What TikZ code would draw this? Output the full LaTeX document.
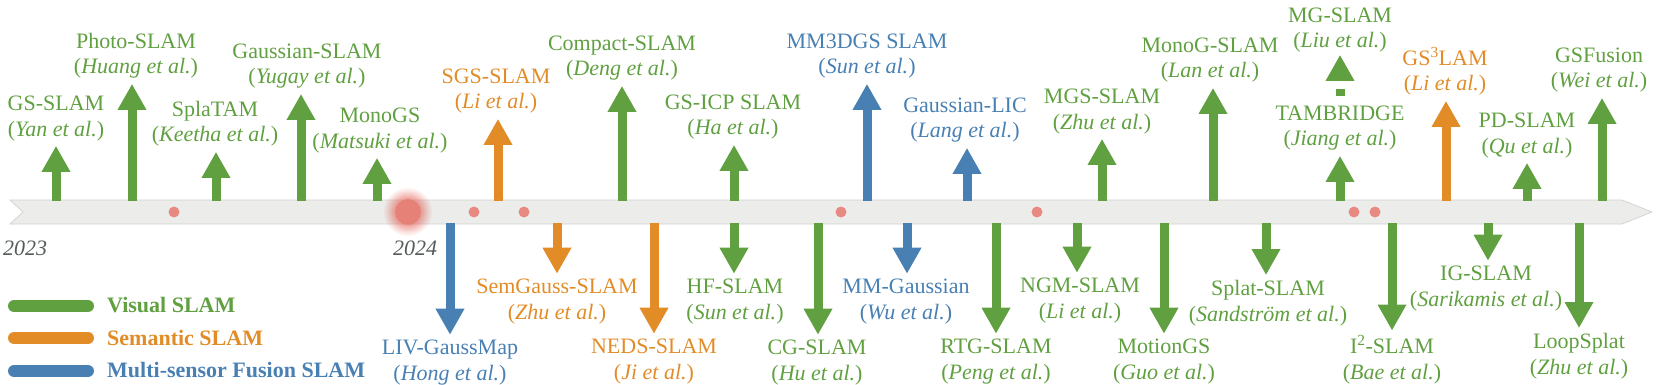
\documentclass[tikz,border=0pt]{standalone}
\usepackage{fontspec}
\setmainfont{Liberation Serif}
\usetikzlibrary{arrows.meta}

\definecolor{vis}{RGB}{96,160,64}
\definecolor{sem}{RGB}{226,140,40}
\definecolor{fus}{RGB}{72,128,180}
\definecolor{yeargray}{RGB}{85,92,90}
\definecolor{bandgray}{RGB}{236,237,235}
\definecolor{dotred}{RGB}{233,138,130}
\definecolor{bigred}{RGB}{230,108,98}

\begin{document}
\begin{tikzpicture}[x=1pt,y=-1pt,
		lbl/.style={font=\fontsize{22}{25.5}\selectfont, align=center, inner sep=0pt, anchor=base},
		legtext/.style={font=\bfseries\fontsize{22}{25.5}\selectfont, inner sep=0pt, anchor=base west},
		year/.style={font=\itshape\fontsize{22}{25.5}\selectfont, text=yeargray, inner sep=0pt, anchor=base},
		arr/.style={line width=9pt, -{Triangle[width=27pt,length=26pt]}, shorten >=5pt},
		legbar/.style={line width=12pt, line cap=round}]
			\useasboundingbox (0,0) rectangle (1661,385);

			% timeline band
			\coordinate (T1) at (10,200);
			\coordinate (T2) at (1622,200);
			\coordinate (T3) at (1652,212);
			\coordinate (T4) at (1622,224);
			\coordinate (T5) at (10,224);
			\coordinate (T6) at (23,212);
			\fill[bandgray] (T1)--(T2)--(T3)--(T4)--(T5)--(T6)--cycle;
			\draw[black!18, line width=0.7pt] (T1)--(T2)--(T3)--(T4)--(T5)--(T6)--cycle;

			% dots on the band
			\fill[dotred] (174,212) circle (5.5pt);
			\fill[dotred] (474,212) circle (5.5pt);
			\fill[dotred] (524,212) circle (5.5pt);
			\fill[dotred] (841,212) circle (5.5pt);
			\fill[dotred] (1037,212) circle (5.5pt);
			\fill[dotred] (1354,212) circle (5.5pt);
			\fill[dotred] (1375,212) circle (5.5pt);
			\fill[bigred, opacity=0.08] (408,212) circle (24pt);
			\fill[bigred, opacity=0.08] (408,212) circle (22.5pt);
			\fill[bigred, opacity=0.09] (408,212) circle (21pt);
			\fill[bigred, opacity=0.1] (408,212) circle (19.5pt);
			\fill[bigred, opacity=0.12] (408,212) circle (18pt);
			\fill[bigred, opacity=0.14] (408,212) circle (16.5pt);
			\fill[bigred, opacity=0.18] (408,212) circle (15pt);
			\fill[bigred, opacity=0.6] (408,212) circle (13pt);

			% years
			\node[year] (y23) at (25,255) {2023};
			\node[year] (y24) at (415,255) {2024};

			% labels above
			\node[lbl, text=vis] (gsslam) at (56,136) {GS-SLAM\\(\textit{Yan et al.})};
			\node[lbl, text=vis] (photo) at (136,74) {Photo-SLAM\\(\textit{Huang et al.})};
			\node[lbl, text=vis] (splatam) at (215,142) {SplaTAM\\(\textit{Keetha et al.})};
			\node[lbl, text=vis] (gaussslam) at (307,84) {Gaussian-SLAM\\(\textit{Yugay et al.})};
			\node[lbl, text=vis] (monogs) at (380,148) {MonoGS\\(\textit{Matsuki et al.})};
			\node[lbl, text=sem] (sgs) at (496,109) {SGS-SLAM\\(\textit{Li et al.})};
			\node[lbl, text=vis] (compact) at (622,76) {Compact-SLAM\\(\textit{Deng et al.})};
			\node[lbl, text=vis] (gsicp) at (733,135) {GS-ICP SLAM\\(\textit{Ha et al.})};
			\node[lbl, text=fus] (mm3dgs) at (867,74) {MM3DGS SLAM\\(\textit{Sun et al.})};
			\node[lbl, text=fus] (lic) at (965,138) {Gaussian-LIC\\(\textit{Lang et al.})};
			\node[lbl, text=vis] (mgs) at (1102,129) {MGS-SLAM\\(\textit{Zhu et al.})};
			\node[lbl, text=vis] (monog) at (1210,78) {MonoG-SLAM\\(\textit{Lan et al.})};
			\node[lbl, text=vis] (mg) at (1340,48) {MG-SLAM\\(\textit{Liu et al.})};
			\node[lbl, text=vis] (tam) at (1340,146) {TAMBRIDGE\\(\textit{Jiang et al.})};
			\node[lbl, text=sem] (gs3) at (1445,91) {GS\textsuperscript{3}LAM\\(\textit{Li et al.})};
			\node[lbl, text=vis] (pd) at (1527,153) {PD-SLAM\\(\textit{Qu et al.})};
			\node[lbl, text=vis] (gsfusion) at (1599,88) {GSFusion\\(\textit{Wei et al.})};

			% labels below
			\node[lbl, text=fus] (liv) at (450,380) {LIV-GaussMap\\(\textit{Hong et al.})};
			\node[lbl, text=sem] (semgauss) at (557,319) {SemGauss-SLAM\\(\textit{Zhu et al.})};
			\node[lbl, text=sem] (neds) at (654,379) {NEDS-SLAM\\(\textit{Ji et al.})};
			\node[lbl, text=vis] (hf) at (735,319) {HF-SLAM\\(\textit{Sun et al.})};
			\node[lbl, text=vis] (cg) at (817,380) {CG-SLAM\\(\textit{Hu et al.})};
			\node[lbl, text=fus] (mmg) at (906,319) {MM-Gaussian\\(\textit{Wu et al.})};
			\node[lbl, text=vis] (rtg) at (996,379) {RTG-SLAM\\(\textit{Peng et al.})};
			\node[lbl, text=vis] (ngm) at (1080,318) {NGM-SLAM\\(\textit{Li et al.})};
			\node[lbl, text=vis] (motion) at (1164,379) {MotionGS\\(\textit{Guo et al.})};
			\node[lbl, text=vis] (splat) at (1268,321) {Splat-SLAM\\(\textit{Sandström et al.})};
			\node[lbl, text=vis] (i2) at (1392,379) {I\textsuperscript{2}-SLAM\\(\textit{Bae et al.})};
			\node[lbl, text=vis] (ig) at (1486,306) {IG-SLAM\\(\textit{Sarikamis et al.})};
			\node[lbl, text=vis] (loop) at (1579,374) {LoopSplat\\(\textit{Zhu et al.})};

			% arrow feet on the band
			\coordinate (gsslam0) at (56,201);
			\coordinate (photo0) at (132,201);
			\coordinate (splatam0) at (216,201);
			\coordinate (gaussslam0) at (301,201);
			\coordinate (monogs0) at (377,201);
			\coordinate (sgs0) at (498,201);
			\coordinate (compact0) at (622,201);
			\coordinate (gsicp0) at (734,201);
			\coordinate (mm3dgs0) at (867,201);
			\coordinate (lic0) at (967,201);
			\coordinate (mgs0) at (1102,201);
			\coordinate (monog0) at (1213,201);
			\coordinate (tam0) at (1340,201);
			\coordinate (gs30) at (1446,201);
			\coordinate (pd0) at (1527,201);
			\coordinate (gsfusion0) at (1602,201);

			\coordinate (liv0) at (450,223);
			\coordinate (semgauss0) at (557,223);
			\coordinate (neds0) at (654,223);
			\coordinate (hf0) at (734,223);
			\coordinate (cg0) at (818,223);
			\coordinate (mmg0) at (907,223);
			\coordinate (rtg0) at (996,223);
			\coordinate (ngm0) at (1077,223);
			\coordinate (motion0) at (1164,223);
			\coordinate (splat0) at (1266,223);
			\coordinate (i20) at (1392,223);
			\coordinate (ig0) at (1488,223);
			\coordinate (loop0) at (1579,223);

			% arrows up
			\draw[arr, vis] (gsslam0) -- (gsslam0 |- gsslam.south);
			\draw[arr, vis] (photo0) -- (photo0 |- photo.south);
			\draw[arr, vis] (splatam0) -- (splatam0 |- splatam.south);
			\draw[arr, vis] (gaussslam0) -- (gaussslam0 |- gaussslam.south);
			\draw[arr, vis] (monogs0) -- (monogs0 |- monogs.south);
			\draw[arr, sem] (sgs0) -- (sgs0 |- sgs.south);
			\draw[arr, vis] (compact0) -- (compact0 |- compact.south);
			\draw[arr, vis] (gsicp0) -- (gsicp0 |- gsicp.south);
			\draw[arr, fus] (mm3dgs0) -- (mm3dgs0 |- mm3dgs.south);
			\draw[arr, fus] (lic0) -- (lic0 |- lic.south);
			\draw[arr, vis] (mgs0) -- (mgs0 |- mgs.south);
			\draw[arr, vis] (monog0) -- (monog0 |- monog.south);
			\draw[arr, vis] (tam0) -- (tam0 |- tam.south);
			\draw[arr, vis, dash pattern=on 7pt off 8pt, shorten <=10pt, shorten >=2pt] (tam.north) -- (mg.south);
			\draw[arr, sem] (gs30) -- (gs30 |- gs3.south);
			\draw[arr, vis] (pd0) -- (pd0 |- pd.south);
			\draw[arr, vis] (gsfusion0) -- (gsfusion0 |- gsfusion.south);

			% arrows down
			\draw[arr, fus] (liv0) -- (liv0 |- liv.north);
			\draw[arr, sem] (semgauss0) -- (semgauss0 |- semgauss.north);
			\draw[arr, sem] (neds0) -- (neds0 |- neds.north);
			\draw[arr, vis] (hf0) -- (hf0 |- hf.north);
			\draw[arr, vis] (cg0) -- (cg0 |- cg.north);
			\draw[arr, fus] (mmg0) -- (mmg0 |- mmg.north);
			\draw[arr, vis] (rtg0) -- (rtg0 |- rtg.north);
			\draw[arr, vis] (ngm0) -- (ngm0 |- ngm.north);
			\draw[arr, vis] (motion0) -- (motion0 |- motion.north);
			\draw[arr, vis] (splat0) -- (splat0 |- splat.north);
			\draw[arr, vis] (i20) -- (i20 |- i2.north);
			\draw[arr, vis] (ig0) -- (ig0 |- ig.north);
			\draw[arr, vis] (loop0) -- (loop0 |- loop.north);

			% legend
			\coordinate (L1a) at (14,306);
			\coordinate (L1b) at (88,306);
			\coordinate (L2a) at (14,338);
			\coordinate (L2b) at (88,338);
			\coordinate (L3a) at (14,371);
			\coordinate (L3b) at (88,371);
			\draw[legbar, vis] (L1a) -- (L1b);
			\draw[legbar, sem] (L2a) -- (L2b);
			\draw[legbar, fus] (L3a) -- (L3b);
			\node[legtext, text=vis] (leg1) at (107,312) {Visual SLAM};
			\node[legtext, text=sem] (leg2) at (107,345) {Semantic SLAM};
			\node[legtext, text=fus] (leg3) at (107,377) {Multi-sensor Fusion SLAM};
		\end{tikzpicture}
\end{document}
